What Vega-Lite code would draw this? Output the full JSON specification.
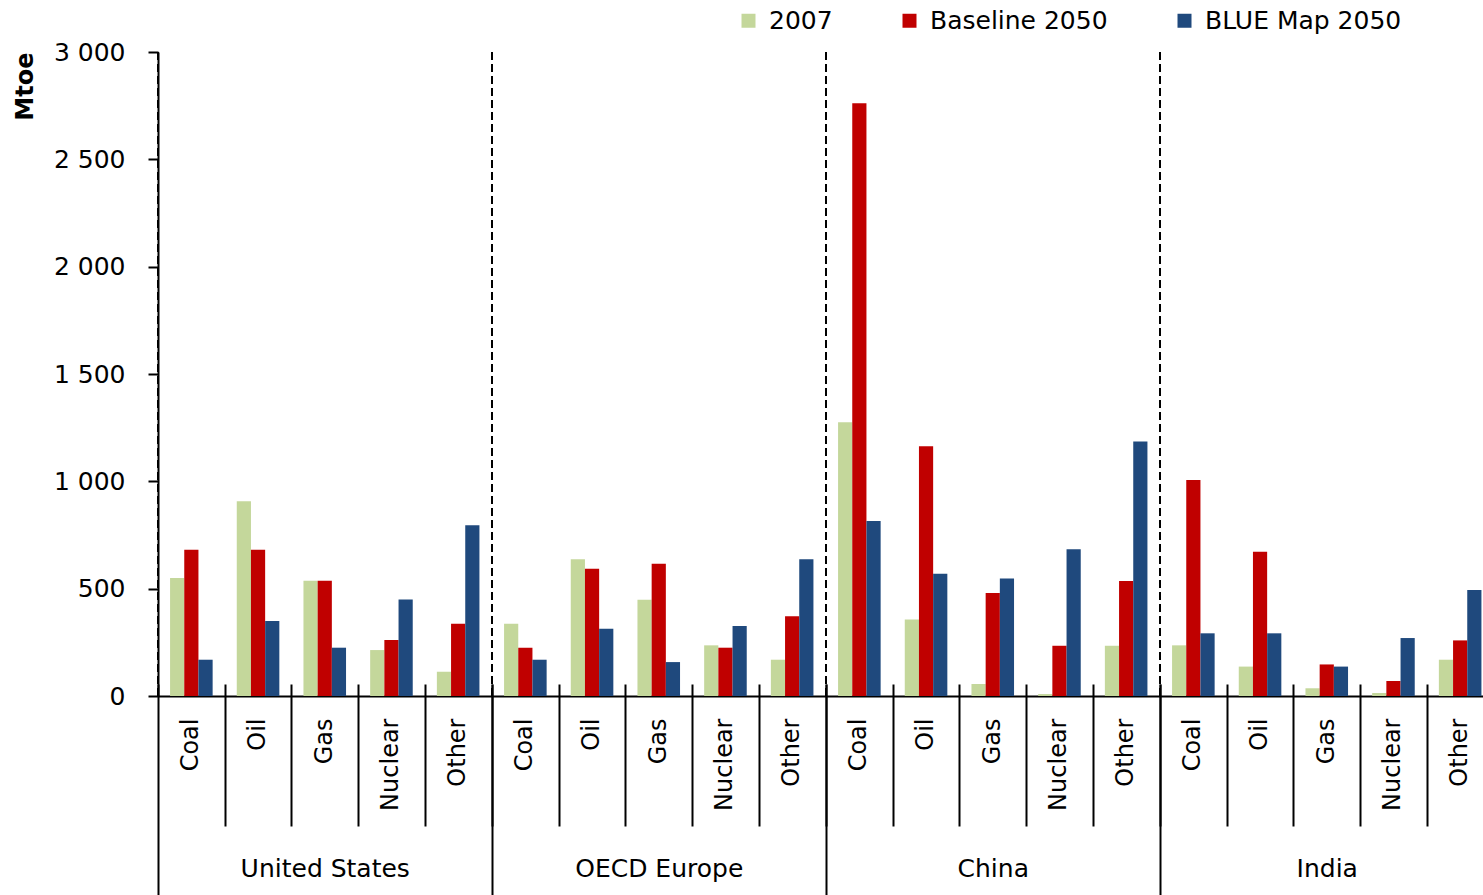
{
  "$schema": "https://vega.github.io/schema/vega-lite/v6.json",
  "padding": {"left": 13, "top": 8, "right": 0, "bottom": 0},
  "background": "#ffffff",
  "bounds": "flush",
  "config": {
    "font": "DejaVu Sans",
    "view": {"stroke": null},
    "axis": {"labelColor": "#000", "titleColor": "#000", "labelFont": "DejaVu Sans", "titleFont": "DejaVu Sans", "grid": false},
    "legend": {"labelColor": "#000", "labelFont": "DejaVu Sans"}
  },
  "datasets": {
    "energy": [
      {"region": "United States", "fuel": "Coal", "series": "2007", "value": 550},
      {"region": "United States", "fuel": "Coal", "series": "Baseline 2050", "value": 681},
      {"region": "United States", "fuel": "Coal", "series": "BLUE Map 2050", "value": 169},
      {"region": "United States", "fuel": "Oil", "series": "2007", "value": 907},
      {"region": "United States", "fuel": "Oil", "series": "Baseline 2050", "value": 681},
      {"region": "United States", "fuel": "Oil", "series": "BLUE Map 2050", "value": 349},
      {"region": "United States", "fuel": "Gas", "series": "2007", "value": 537},
      {"region": "United States", "fuel": "Gas", "series": "Baseline 2050", "value": 537},
      {"region": "United States", "fuel": "Gas", "series": "BLUE Map 2050", "value": 225},
      {"region": "United States", "fuel": "Nuclear", "series": "2007", "value": 214},
      {"region": "United States", "fuel": "Nuclear", "series": "Baseline 2050", "value": 261},
      {"region": "United States", "fuel": "Nuclear", "series": "BLUE Map 2050", "value": 450},
      {"region": "United States", "fuel": "Other", "series": "2007", "value": 113},
      {"region": "United States", "fuel": "Other", "series": "Baseline 2050", "value": 337},
      {"region": "United States", "fuel": "Other", "series": "BLUE Map 2050", "value": 795},
      {"region": "OECD Europe", "fuel": "Coal", "series": "2007", "value": 337},
      {"region": "OECD Europe", "fuel": "Coal", "series": "Baseline 2050", "value": 225},
      {"region": "OECD Europe", "fuel": "Coal", "series": "BLUE Map 2050", "value": 169},
      {"region": "OECD Europe", "fuel": "Oil", "series": "2007", "value": 637},
      {"region": "OECD Europe", "fuel": "Oil", "series": "Baseline 2050", "value": 593},
      {"region": "OECD Europe", "fuel": "Oil", "series": "BLUE Map 2050", "value": 313},
      {"region": "OECD Europe", "fuel": "Gas", "series": "2007", "value": 448},
      {"region": "OECD Europe", "fuel": "Gas", "series": "Baseline 2050", "value": 616},
      {"region": "OECD Europe", "fuel": "Gas", "series": "BLUE Map 2050", "value": 158},
      {"region": "OECD Europe", "fuel": "Nuclear", "series": "2007", "value": 236},
      {"region": "OECD Europe", "fuel": "Nuclear", "series": "Baseline 2050", "value": 225},
      {"region": "OECD Europe", "fuel": "Nuclear", "series": "BLUE Map 2050", "value": 326},
      {"region": "OECD Europe", "fuel": "Other", "series": "2007", "value": 169},
      {"region": "OECD Europe", "fuel": "Other", "series": "Baseline 2050", "value": 371},
      {"region": "OECD Europe", "fuel": "Other", "series": "BLUE Map 2050", "value": 637},
      {"region": "China", "fuel": "Coal", "series": "2007", "value": 1275},
      {"region": "China", "fuel": "Coal", "series": "Baseline 2050", "value": 2761},
      {"region": "China", "fuel": "Coal", "series": "BLUE Map 2050", "value": 815},
      {"region": "China", "fuel": "Oil", "series": "2007", "value": 356},
      {"region": "China", "fuel": "Oil", "series": "Baseline 2050", "value": 1163},
      {"region": "China", "fuel": "Oil", "series": "BLUE Map 2050", "value": 569},
      {"region": "China", "fuel": "Gas", "series": "2007", "value": 56},
      {"region": "China", "fuel": "Gas", "series": "Baseline 2050", "value": 480},
      {"region": "China", "fuel": "Gas", "series": "BLUE Map 2050", "value": 547},
      {"region": "China", "fuel": "Nuclear", "series": "2007", "value": 9},
      {"region": "China", "fuel": "Nuclear", "series": "Baseline 2050", "value": 234},
      {"region": "China", "fuel": "Nuclear", "series": "BLUE Map 2050", "value": 684},
      {"region": "China", "fuel": "Other", "series": "2007", "value": 234},
      {"region": "China", "fuel": "Other", "series": "Baseline 2050", "value": 536},
      {"region": "China", "fuel": "Other", "series": "BLUE Map 2050", "value": 1185},
      {"region": "India", "fuel": "Coal", "series": "2007", "value": 236},
      {"region": "India", "fuel": "Coal", "series": "Baseline 2050", "value": 1006},
      {"region": "India", "fuel": "Coal", "series": "BLUE Map 2050", "value": 292},
      {"region": "India", "fuel": "Oil", "series": "2007", "value": 137},
      {"region": "India", "fuel": "Oil", "series": "Baseline 2050", "value": 672},
      {"region": "India", "fuel": "Oil", "series": "BLUE Map 2050", "value": 292},
      {"region": "India", "fuel": "Gas", "series": "2007", "value": 36},
      {"region": "India", "fuel": "Gas", "series": "Baseline 2050", "value": 147},
      {"region": "India", "fuel": "Gas", "series": "BLUE Map 2050", "value": 137},
      {"region": "India", "fuel": "Nuclear", "series": "2007", "value": 14},
      {"region": "India", "fuel": "Nuclear", "series": "Baseline 2050", "value": 70},
      {"region": "India", "fuel": "Nuclear", "series": "BLUE Map 2050", "value": 270},
      {"region": "India", "fuel": "Other", "series": "2007", "value": 169},
      {"region": "India", "fuel": "Other", "series": "Baseline 2050", "value": 259},
      {"region": "India", "fuel": "Other", "series": "BLUE Map 2050", "value": 494}
    ]
  },
  "hconcat": [
    {
      "width": 333.5, "height": 644,
      "layer": [
        {
          "data": {"name": "energy"},
          "transform": [{"filter": "datum.region === 'United States'"}],
          "mark": {"type": "bar"},
          "encoding": {
            "x": {"field": "fuel", "type": "nominal", "scale": {"domain": ["Coal", "Oil", "Gas", "Nuclear", "Other"], "paddingInner": 0, "paddingOuter": 0},
                  "axis": {"orient": "bottom", "title": null, "ticks": false, "domain": true, "domainColor": "#000", "domainWidth": 2, "labelAngle": -90, "labelAlign": "right", "labelBaseline": "middle", "labelPadding": 22, "labelFontSize": 24}},
            "xOffset": {"field": "series", "type": "nominal", "scale": {"domain": ["2007", "Baseline 2050", "BLUE Map 2050"], "paddingInner": 0, "paddingOuter": 0.85}},
            "y": {"field": "value", "type": "quantitative", "scale": {"domain": [0, 3000], "nice": false},
                  "axis": {"values": [0, 500, 1000, 1500, 2000, 2500, 3000], "labelExpr": "replace(format(datum.value, ','), ',', ' ')", "tickSize": 10, "tickWidth": 2, "tickColor": "#000", "domainColor": "#000", "domainWidth": 2, "labelPadding": 23, "labelFontSize": 25, "title": "Mtoe", "titleFontSize": 24, "titleFontWeight": "bold", "titleAnchor": "end", "titleAngle": 270, "titlePadding": 16}},
            "color": {"field": "series", "type": "nominal", "scale": {"domain": ["2007", "Baseline 2050", "BLUE Map 2050"], "range": ["#C4D79B", "#C00000", "#1F497D"]},
                      "legend": {"title": null, "orient": "none", "legendX": 578, "legendY": -44, "direction": "horizontal", "symbolType": "square", "symbolSize": 196, "symbolStrokeWidth": 0, "labelFontSize": 25, "labelOffset": 8, "columnPadding": 64, "labelLimit": 400, "padding": 0}}
          }
        },
        {
          "data": {"values": [{}]},
          "mark": {"type": "rule", "strokeDash": [8, 4], "strokeWidth": 2, "color": "#000"},
          "encoding": {
            "x": {"datum": "Coal", "type": "nominal", "bandPosition": 0,
                  "axis": {"orient": "bottom", "offset": -12, "domain": false, "labels": false, "ticks": true, "tickBand": "extent", "tickColor": "#000", "tickWidth": 2, "tickSize": {"condition": {"test": "datum.extra", "value": 215}, "value": 142}, "title": "United States", "titleFontSize": 25, "titleFontWeight": "normal", "titleY": 184, "titleBaseline": "middle"}}
          }
        }
      ],
      "resolve": {"axis": {"x": "independent"}}
    },
    {
      "width": 333.5, "height": 644,
      "layer": [
        {
          "data": {"name": "energy"},
          "transform": [{"filter": "datum.region === 'OECD Europe'"}],
          "mark": {"type": "bar"},
          "encoding": {
            "x": {"field": "fuel", "type": "nominal", "scale": {"domain": ["Coal", "Oil", "Gas", "Nuclear", "Other"], "paddingInner": 0, "paddingOuter": 0},
                  "axis": {"orient": "bottom", "title": null, "ticks": false, "domain": true, "domainColor": "#000", "domainWidth": 2, "labelAngle": -90, "labelAlign": "right", "labelBaseline": "middle", "labelPadding": 22, "labelFontSize": 24}},
            "xOffset": {"field": "series", "type": "nominal", "scale": {"domain": ["2007", "Baseline 2050", "BLUE Map 2050"], "paddingInner": 0, "paddingOuter": 0.85}},
            "y": {"field": "value", "type": "quantitative", "scale": {"domain": [0, 3000], "nice": false}, "axis": null},
            "color": {"field": "series", "type": "nominal", "scale": {"domain": ["2007", "Baseline 2050", "BLUE Map 2050"], "range": ["#C4D79B", "#C00000", "#1F497D"]},
                      "legend": {"title": null, "orient": "none", "legendX": 578, "legendY": -44, "direction": "horizontal", "symbolType": "square", "symbolSize": 196, "symbolStrokeWidth": 0, "labelFontSize": 25, "labelOffset": 8, "columnPadding": 64, "labelLimit": 400, "padding": 0}}
          }
        },
        {
          "data": {"values": [{}]},
          "mark": {"type": "rule", "strokeDash": [8, 4], "strokeWidth": 2, "color": "#000"},
          "encoding": {
            "x": {"datum": "Coal", "type": "nominal", "bandPosition": 0,
                  "axis": {"orient": "bottom", "offset": -12, "domain": false, "labels": false, "ticks": true, "tickBand": "extent", "tickColor": "#000", "tickWidth": 2, "tickSize": {"condition": {"test": "datum.extra", "value": 215}, "value": 142}, "title": "OECD Europe", "titleFontSize": 25, "titleFontWeight": "normal", "titleY": 184, "titleBaseline": "middle"}}
          }
        }
      ],
      "resolve": {"axis": {"x": "independent"}}
    },
    {
      "width": 333.5, "height": 644,
      "layer": [
        {
          "data": {"name": "energy"},
          "transform": [{"filter": "datum.region === 'China'"}],
          "mark": {"type": "bar"},
          "encoding": {
            "x": {"field": "fuel", "type": "nominal", "scale": {"domain": ["Coal", "Oil", "Gas", "Nuclear", "Other"], "paddingInner": 0, "paddingOuter": 0},
                  "axis": {"orient": "bottom", "title": null, "ticks": false, "domain": true, "domainColor": "#000", "domainWidth": 2, "labelAngle": -90, "labelAlign": "right", "labelBaseline": "middle", "labelPadding": 22, "labelFontSize": 24}},
            "xOffset": {"field": "series", "type": "nominal", "scale": {"domain": ["2007", "Baseline 2050", "BLUE Map 2050"], "paddingInner": 0, "paddingOuter": 0.85}},
            "y": {"field": "value", "type": "quantitative", "scale": {"domain": [0, 3000], "nice": false}, "axis": null},
            "color": {"field": "series", "type": "nominal", "scale": {"domain": ["2007", "Baseline 2050", "BLUE Map 2050"], "range": ["#C4D79B", "#C00000", "#1F497D"]},
                      "legend": {"title": null, "orient": "none", "legendX": 578, "legendY": -44, "direction": "horizontal", "symbolType": "square", "symbolSize": 196, "symbolStrokeWidth": 0, "labelFontSize": 25, "labelOffset": 8, "columnPadding": 64, "labelLimit": 400, "padding": 0}}
          }
        },
        {
          "data": {"values": [{}]},
          "mark": {"type": "rule", "strokeDash": [8, 4], "strokeWidth": 2, "color": "#000"},
          "encoding": {
            "x": {"datum": "Coal", "type": "nominal", "bandPosition": 0,
                  "axis": {"orient": "bottom", "offset": -12, "domain": false, "labels": false, "ticks": true, "tickBand": "extent", "tickColor": "#000", "tickWidth": 2, "tickSize": {"condition": {"test": "datum.extra", "value": 215}, "value": 142}, "title": "China", "titleFontSize": 25, "titleFontWeight": "normal", "titleY": 184, "titleBaseline": "middle"}}
          }
        }
      ],
      "resolve": {"axis": {"x": "independent"}}
    },
    {
      "width": 333.5, "height": 644,
      "layer": [
        {
          "data": {"name": "energy"},
          "transform": [{"filter": "datum.region === 'India'"}],
          "mark": {"type": "bar"},
          "encoding": {
            "x": {"field": "fuel", "type": "nominal", "scale": {"domain": ["Coal", "Oil", "Gas", "Nuclear", "Other"], "paddingInner": 0, "paddingOuter": 0},
                  "axis": {"orient": "bottom", "title": null, "ticks": false, "domain": true, "domainColor": "#000", "domainWidth": 2, "labelAngle": -90, "labelAlign": "right", "labelBaseline": "middle", "labelPadding": 22, "labelFontSize": 24}},
            "xOffset": {"field": "series", "type": "nominal", "scale": {"domain": ["2007", "Baseline 2050", "BLUE Map 2050"], "paddingInner": 0, "paddingOuter": 0.85}},
            "y": {"field": "value", "type": "quantitative", "scale": {"domain": [0, 3000], "nice": false}, "axis": null},
            "color": {"field": "series", "type": "nominal", "scale": {"domain": ["2007", "Baseline 2050", "BLUE Map 2050"], "range": ["#C4D79B", "#C00000", "#1F497D"]},
                      "legend": {"title": null, "orient": "none", "legendX": 578, "legendY": -44, "direction": "horizontal", "symbolType": "square", "symbolSize": 196, "symbolStrokeWidth": 0, "labelFontSize": 25, "labelOffset": 8, "columnPadding": 64, "labelLimit": 400, "padding": 0}}
          }
        },
        {
          "data": {"values": [{}]},
          "mark": {"type": "rule", "strokeDash": [8, 4], "strokeWidth": 2, "color": "#000"},
          "encoding": {
            "x": {"datum": "Coal", "type": "nominal", "bandPosition": 0,
                  "axis": {"orient": "bottom", "offset": -12, "domain": false, "labels": false, "ticks": true, "tickBand": "extent", "tickColor": "#000", "tickWidth": 2, "tickSize": {"condition": {"test": "datum.extra", "value": 215}, "value": 142}, "title": "India", "titleFontSize": 25, "titleFontWeight": "normal", "titleY": 184, "titleBaseline": "middle"}}
          }
        }
      ],
      "resolve": {"axis": {"x": "independent"}}
    }
  ],
  "spacing": 0,
  "resolve": {"scale": {"color": "shared"}, "legend": {"color": "shared"}}
}
